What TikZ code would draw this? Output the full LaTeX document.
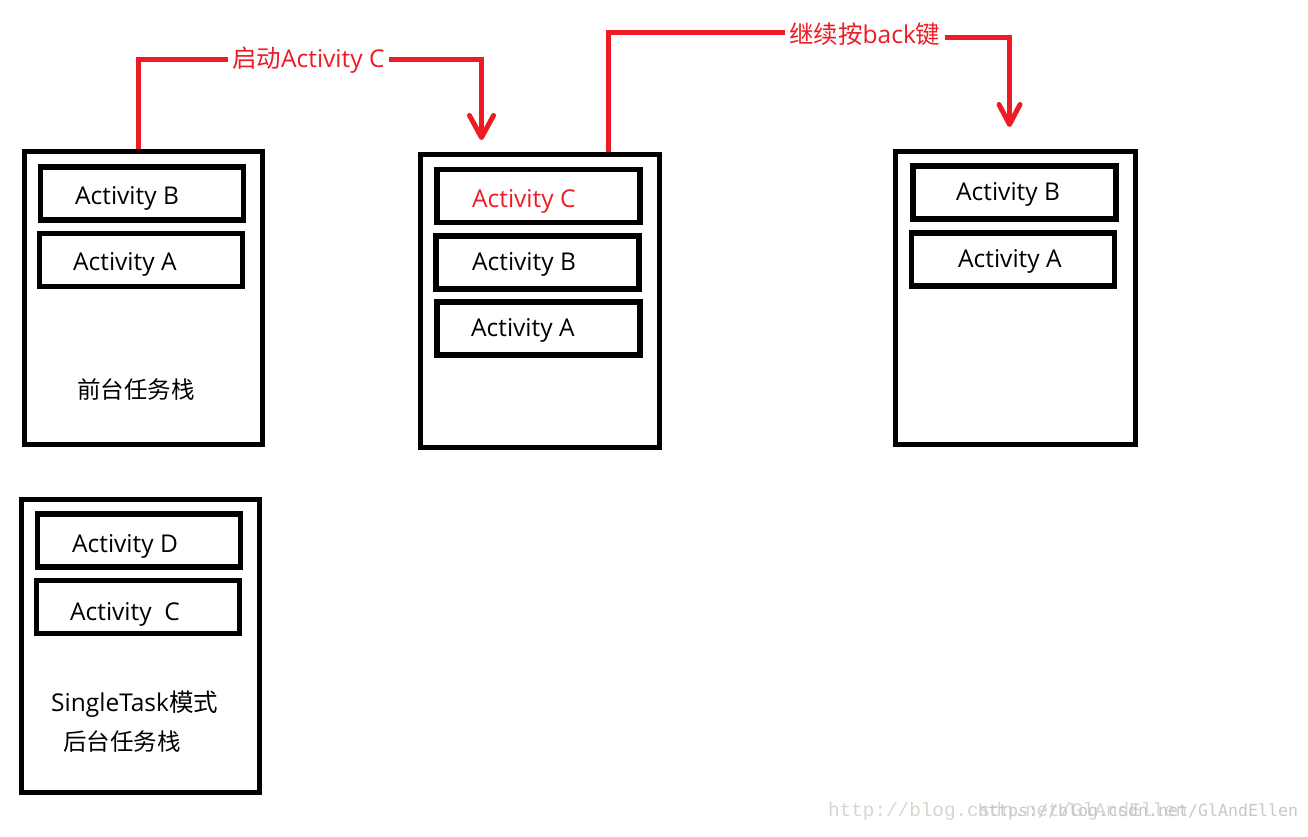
\documentclass[tikz,border=0pt]{standalone}
\usepackage{fontspec}
\setmainfont{Open Sans}
\newfontfamily\cjk{Noto Sans CJK SC}
\newfontfamily\wmfont{Liberation Mono}
\newfontfamily\wmfontb{DejaVu Sans Mono}
\usetikzlibrary{arrows.meta}
\definecolor{paintred}{RGB}{237,28,36}
\definecolor{wmgray}{RGB}{214,214,206}
\definecolor{wmgrayb}{RGB}{200,200,200}
\begin{document}
\begin{tikzpicture}[x=1pt,y=-1pt,
  stackbox/.style={draw=black,line width=5pt,inner sep=0pt,outer sep=0pt,rectangle},
  actbox/.style={draw=black,line width=5.5pt,inner sep=0pt,outer sep=0pt,rectangle,minimum width=203pt,minimum height=53pt},
  acttext/.style={anchor=base west,inner sep=0pt,font=\fontsize{24.5}{29}\selectfont},
  cjktext/.style={anchor=west,inner sep=0pt,font=\cjk\fontsize{23.5}{28}\selectfont},
  redlabel/.style={anchor=west,inner xsep=4pt,inner ysep=0pt,text height=20pt,text depth=2.5pt,text=paintred,font=\fontsize{24.5}{29}\selectfont},
  redline/.style={draw=paintred,line width=5pt},
]
\fill[white] (0,0) rectangle (1308,836);
\useasboundingbox (0,0) rectangle (1308,836);

% stack 1: foreground task stack
\node[stackbox,minimum width=238pt,minimum height=293pt] (s1) at (143.5,298) {};
\node[actbox] (s1b) at (142,193.5) {};
\node[actbox] (s1a) at (141,260) {};
\node[acttext] (s1bt) at (75,204.5) {Activity B};
\node[acttext] (s1at) at (73,270.5) {Activity A};
\node[cjktext] (s1t) at (77,390) {前台任务栈};

% stack 2
\node[stackbox,minimum width=239pt,minimum height=293pt] (s2) at (539.5,301) {};
\node[actbox] (s2c) at (538.25,195.75) {};
\node[actbox] (s2b) at (537.25,262.5) {};
\node[actbox] (s2a) at (538.25,328.5) {};
\node[acttext,text=paintred] (s2ct) at (472,207.5) {Activity C};
\node[acttext] (s2bt) at (472,270.5) {Activity B};
\node[acttext] (s2at) at (471,336.5) {Activity A};

% stack 3
\node[stackbox,minimum width=239.5pt,minimum height=293pt] (s3) at (1015.25,298) {};
\node[actbox] (s3b) at (1014.5,192.25) {};
\node[actbox] (s3a) at (1013,259.25) {};
\node[acttext] (s3bt) at (956,200.5) {Activity B};
\node[acttext] (s3at) at (958,267.5) {Activity A};

% stack 4: background SingleTask stack
\node[stackbox,minimum width=238.5pt,minimum height=293.5pt] (s4) at (140.25,645.75) {};
\node[actbox] (s4d) at (139,540.5) {};
\node[actbox] (s4c) at (138,606.75) {};
\node[acttext] (s4dt) at (72,552) {Activity D};
\node[acttext] (s4ct) at (70,620) {Activity~\ C};
\node[acttext] (s4t1) at (51,711) {SingleTask{\cjk 模式}};
\node[cjktext] (s4t2) at (63,742) {后台任务栈};

% connector 1
\node[redlabel] (l1) at (228,59) {{\cjk 启动}Activity C};
\coordinate (a1) at (481.5,140);
\draw[redline] ([xshift=-5pt,yshift=2.5pt]s1.north) |- (l1.west);
\draw[redline,-{Straight Barb[length=22pt,width=24pt,round]}] (l1.east) -| (a1);

% connector 2
\node[redlabel] (l2) at (785,35) {{\cjk 继续按}back{\cjk 键}};
\coordinate (a2) at (1009.5,127);
\draw[redline] ([xshift=68.5pt,yshift=2.5pt]s2.north) |- ([yshift=2.5pt]l2.west);
\draw[redline,-{Straight Barb[length=20pt,width=21pt,round]}] ([yshift=-2.5pt]l2.east) -| (a2);

% watermark
\node[anchor=base west,inner sep=0pt,text=wmgray,font=\wmfont\fontsize{19.3}{20}\selectfont] (wm1) at (828,816) {http://blog.csdn.net/GlAndEllen};
\node[anchor=base west,inner sep=0pt,text=wmgrayb,font=\wmfontb\fontsize{16.6}{18}\selectfont] (wm2) at (978,816) {https://blog.csdn.net/GlAndEllen};
\end{tikzpicture}
\end{document}
